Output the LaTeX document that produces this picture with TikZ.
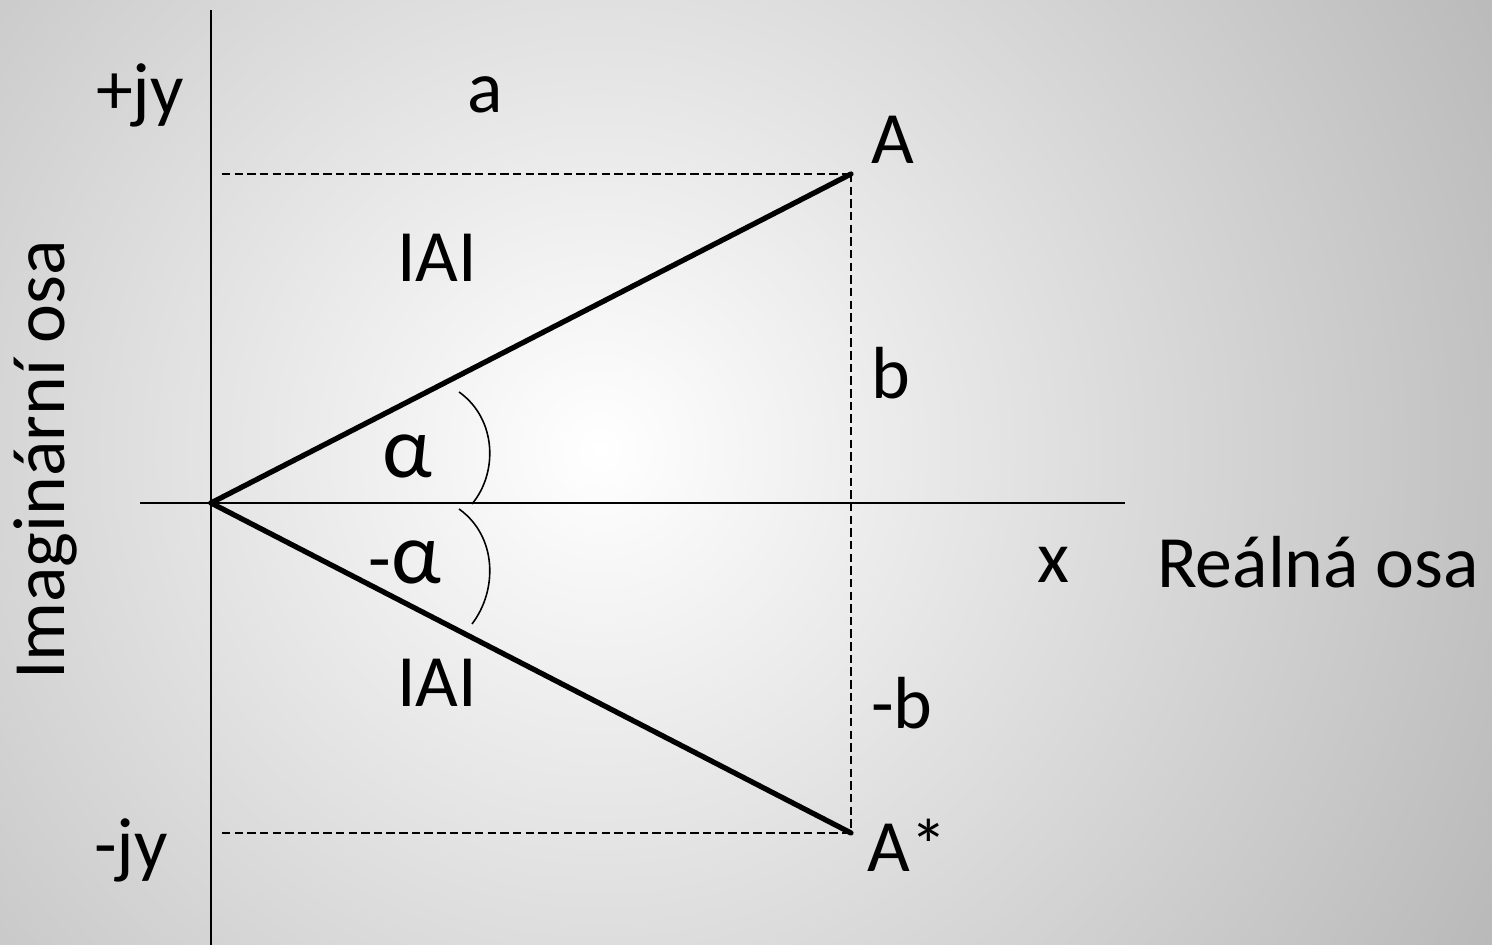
\documentclass[tikz,border=0pt]{standalone}
\usepackage{fontspec}
\setmainfont{Carlito}
\usetikzlibrary{positioning,calc}
\definecolor{inkblack}{HTML}{000000}
\definecolor{backgrey}{HTML}{8A8A8A}

\begin{document}
\begin{tikzpicture}[
  lbl/.style={font=\fontsize{21}{24}\selectfont, inner sep=0pt, text=inkblack},
  greek/.style={lbl, font=\fontsize{25}{28}\selectfont},
  axis/.style={inkblack, line width=0.6pt},
  vect/.style={inkblack, line width=1.5pt, line cap=round},
  proj/.style={inkblack, line width=0.6pt, dash pattern=on 2.4pt off 1.2pt},
  ang/.style={inkblack, line width=0.45pt}
]
% background
\useasboundingbox (0,0) rectangle (14.92,9.45);
\begin{scope}
\clip (0,0) rectangle (14.92,9.45);
\shade[inner color=white, outer color=backgrey] (-11,-12.05) rectangle (23,21.95);
\end{scope}

% points
\coordinate (orig) at (2.11,4.42);
\coordinate (ptA) at (8.51,7.71);
\coordinate (ptAc) at (8.51,1.12);
\coordinate (ytop) at (2.11,9.35);
\coordinate (ybot) at (2.11,0);
\coordinate (xleft) at (1.40,4.42);
\coordinate (xright) at (11.25,4.42);
\coordinate (dtop) at (2.22,7.71);
\coordinate (dbot) at (2.22,1.12);

% axes
\draw[axis] (ybot) -- (ytop);
\draw[axis] (xleft) -- (xright);

% projections
\draw[proj] (dtop) -- (ptA);
\draw[proj] (dbot) -- (ptAc);
\draw[proj] (ptA) -- (ptAc);

% vectors
\draw[vect] (orig) -- (ptA);
\draw[vect] (orig) -- (ptAc);

% angle arcs
\coordinate (angA) at (4.59,5.53);
\coordinate (angB) at (4.72,4.41);
\coordinate (angC) at (4.59,4.36);
\coordinate (angD) at (4.72,3.21);
\draw[ang] (angA) .. controls (4.97,5.26) and (4.98,4.72) .. (angB);
\draw[ang] (angC) .. controls (4.97,4.09) and (4.98,3.55) .. (angD);

% labels
\node[lbl] (lpjy) at (1.40,8.50) {+jy};
\node[lbl] (lmjy) at (1.31,0.95) {-jy};
\node[lbl] (la) at (4.85,8.50) {a};
\node[lbl] (lA) at (8.93,8.05) {A};
\node[lbl] (lAc) at (9.07,1.00) {A*};
\node[lbl] (labsA) at (4.37,6.87) {IAI};
\node[lbl] (labsB) at (4.37,2.62) {IAI};
\node[lbl] (lb) at (8.91,5.72) {b};
\node[lbl] (lmb) at (9.02,2.42) {-b};
\node[greek] (lalpha) at (4.07,4.89) {α};
\node[greek] (lmalpha) at (4.05,3.83) {{\fontsize{21}{24}\selectfont -}α};
\node[lbl] (lx) at (10.53,3.80) {x};
\node[lbl] (lreal) at (13.18,3.83) {Reálná osa};
\node[lbl, rotate=90] (limag) at (0.45,4.85) {Imaginární osa};
\end{tikzpicture}
\end{document}
